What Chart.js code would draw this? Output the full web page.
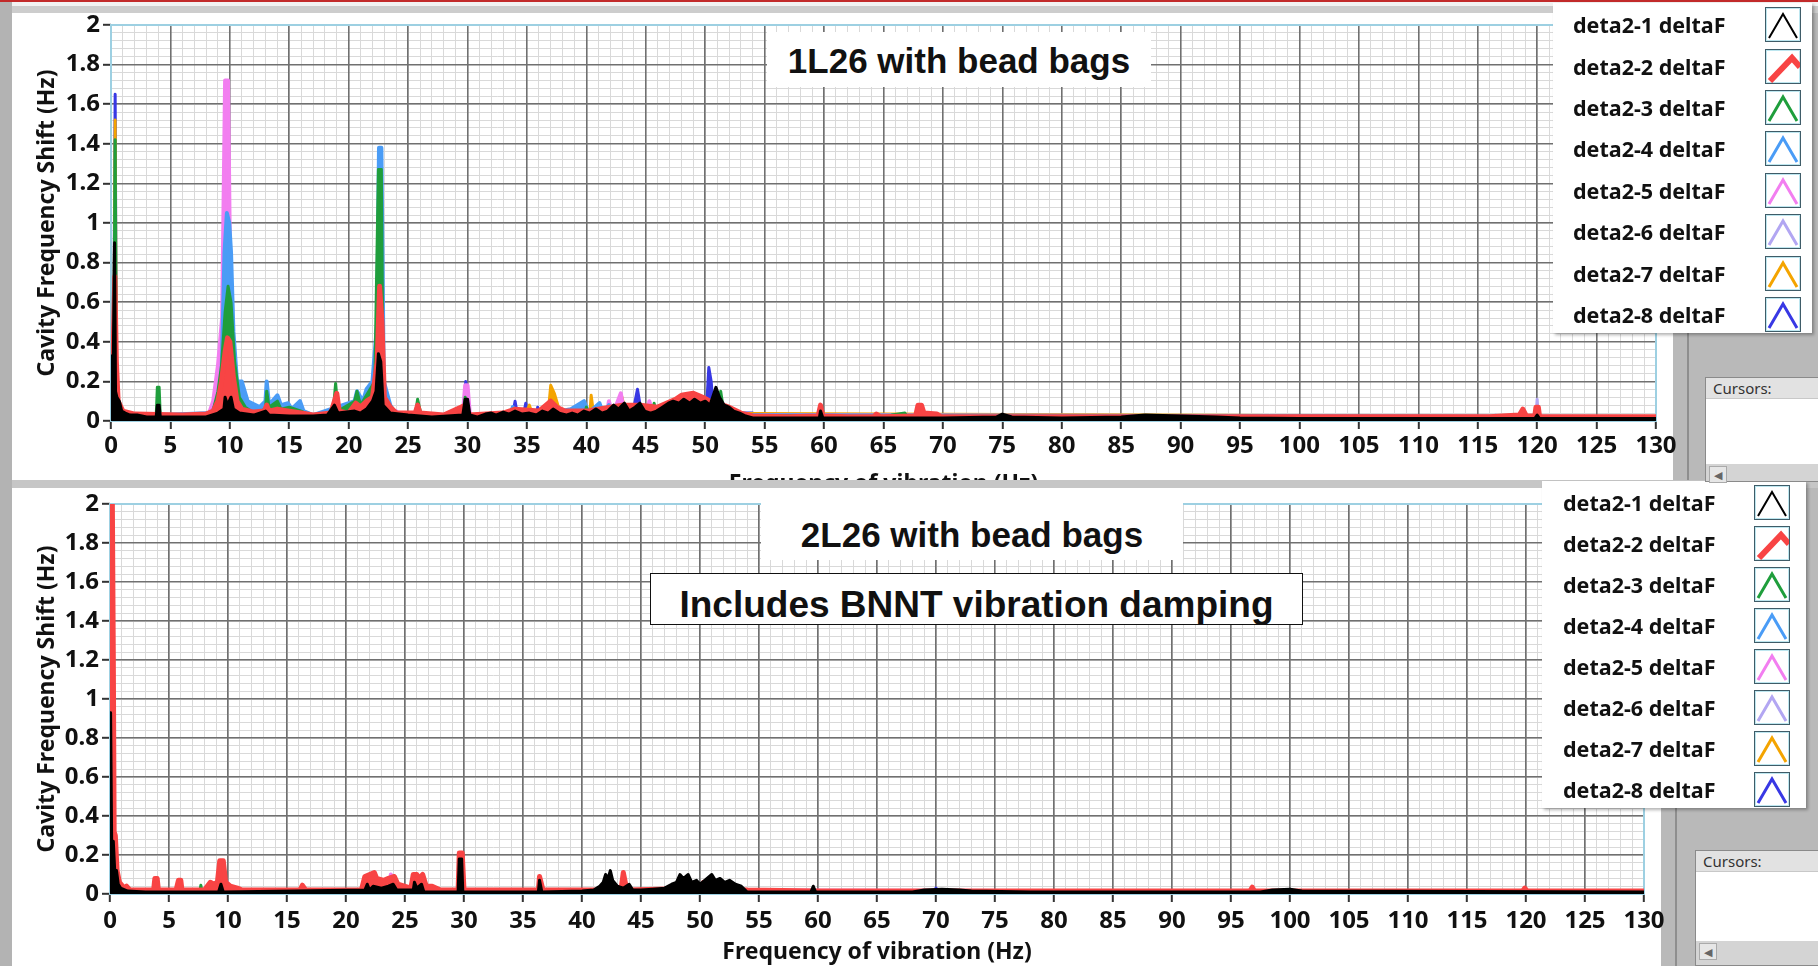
<!DOCTYPE html>
<html>
<head>
<meta charset="utf-8">
<script src="https://cdn.jsdelivr.net/npm/chart.js@4.4.1/dist/chart.umd.min.js"></script>
<style>
  body { margin: 0; width: 1818px; height: 966px; overflow: hidden; background: #b9b9b9; position: relative; font-family: "Noto Sans", sans-serif; }
  .abs { position: absolute; }
  .panel { background: #fff; }
  canvas { position: absolute; left: 0; }
  .tbox { background: #fff; z-index: 5; }
  .ttxt { position: absolute; left: 0; width: 100%; text-align: center; font-family: "Liberation Sans", Arial, sans-serif; font-weight: bold; line-height: 1; color: #111; white-space: nowrap; }
  .legend { background: #fff; z-index: 6; box-shadow: 2px 2px 3px rgba(0,0,0,0.3); }
  .lrow { position: absolute; left: 0; width: 100%; display: flex; align-items: center; }
  .ltxt { position: absolute; font-weight: bold; font-size: 21.5px; color: #111; }
  .licon { position: absolute; width: 34px; height: 33px; border: 1px solid #3f5c68; box-shadow: inset 0 0 0 1px #bde6ef; background: #fff; }
  .cursors { background: #fff; border: 1px solid #8a8a8a; z-index: 6; }
  .chead { background: #e2e2e2; color: #333; font-size: 15px; padding-left: 7px; border-bottom: 1px solid #c8c8c8; }
  .cscroll { position: absolute; left: 0; width: 100%; background: #d4d4d4; }
  .carrow { position: absolute; left: 3px; top: 2px; width: 16px; color: #666; font-size: 11px; text-align: center; border: 1px solid #aaa; background: #e6e6e6; }
</style>
</head>
<body>
<div class="abs" style="left:0;top:0;width:1818px;height:2px;background:#c22a2a;z-index:9"></div>
<div class="abs" style="left:0;top:0;width:12px;height:966px;background:#b3b3b3;z-index:8"></div>
<div class="abs" style="left:12px;top:2px;width:1806px;height:5px;background:#f2f2f2"></div>
<div class="abs" style="left:12px;top:6px;width:1806px;height:7px;background:#cdcdcd"></div>
<div class="abs panel" style="left:12px;top:13px;width:1661px;height:467px;z-index:0"></div>
<div class="abs" style="left:1687px;top:333px;width:2px;height:147px;background:#8e8e8e"></div>
<canvas id="topChart" width="1700" height="500" style="top:0;z-index:1"></canvas>
<div class="abs" style="left:12px;top:480px;width:1806px;height:8px;background:#c6c6c6;z-index:2"></div>
<div class="abs panel" style="left:12px;top:488px;width:1649px;height:478px;z-index:2"></div>
<div class="abs" style="left:1675px;top:808px;width:2px;height:158px;background:#8e8e8e;z-index:2"></div>
<canvas id="bottomChart" width="1700" height="486" style="top:480px;z-index:3"></canvas>

<div class="abs tbox" style="left:767px;top:32px;width:384px;height:55px"><div class="ttxt" style="top:11px;font-size:35px">1L26 with bead bags</div></div>
<div class="abs tbox" style="left:761px;top:503px;width:422px;height:57px"><div class="ttxt" style="top:14px;font-size:35px">2L26 with bead bags</div></div>
<div class="abs tbox" style="left:650px;top:573px;width:651px;height:50px;border:1.5px solid #111"><div class="ttxt" style="top:12px;font-size:37px">Includes BNNT vibration damping</div></div>

<div id="legendTop" class="abs legend" style="left:1553px;top:3px;width:259px;height:330px"></div>
<div id="legendBottom" class="abs legend" style="left:1542px;top:481px;width:264px;height:327px"></div>

<div class="abs cursors" style="left:1705px;top:377px;width:113px;height:103px">
  <div class="chead">Cursors:</div>
  <div class="cscroll" style="top:86px;height:17px"><div class="carrow">&#9664;</div></div>
</div>
<div class="abs cursors" style="left:1695px;top:850px;width:123px;height:114px">
  <div class="chead">Cursors:</div>
  <div class="cscroll" style="top:90px;height:24px"><div class="carrow">&#9664;</div></div>
</div>

<script>
// legend / series
const seriesNames = ['deta2-1 deltaF', 'deta2-2 deltaF', 'deta2-3 deltaF', 'deta2-4 deltaF',
                     'deta2-5 deltaF', 'deta2-6 deltaF', 'deta2-7 deltaF', 'deta2-8 deltaF'];
const seriesColors = ['#000000', '#f84444', '#1f9e3c', '#4a9cf6', '#f27ef0', '#b2a6f2', '#f4a400', '#3838e4'];
const lineWidths = [3, 5, 3, 4, 4, 3, 3, 3];

// axes
const freqMin = 0, freqMax = 130, freqStep = 5, freqMinorStep = 1;
const shiftMin = 0, shiftMax = 2, shiftStep = 0.2, shiftMinorStep = 0.04;

// 1L26 with bead bags: [frequency Hz, shift Hz]
const top1 = [[0,0.05],[0.08,0.33],[0.15,0.1],[0.3,0.9],[0.38,0.15],[0.5,0.12],[0.7,0.1],[0.9,0.05],[1.2,0.04],[1.6,0.03],[2.2,0.03],[3,0.02],[3.8,0.02],[3.9,0.08],[4.05,0.08],[4.15,0.02],[6,0.02],[8,0.02],[9,0.04],[9.5,0.06],[9.6,0.12],[9.8,0.08],[10.1,0.12],[10.3,0.06],[10.8,0.04],[12,0.03],[13,0.05],[13.3,0.03],[15,0.025],[17,0.025],[18.2,0.03],[18.8,0.08],[19.1,0.04],[20.5,0.05],[21,0.04],[21.5,0.06],[22,0.1],[22.3,0.15],[22.5,0.34],[22.7,0.3],[22.9,0.08],[23.5,0.04],[25,0.03],[27,0.02],[29.6,0.03],[29.8,0.11],[30,0.11],[30.2,0.03],[30.8,0.02],[31.5,0.035],[32,0.04],[32.4,0.03],[33,0.045],[33.5,0.035],[34,0.05],[34.6,0.035],[35.2,0.04],[35.8,0.03],[36.3,0.05],[36.8,0.04],[37.2,0.06],[37.7,0.04],[38.3,0.03],[38.8,0.04],[39.3,0.03],[39.8,0.05],[40.3,0.04],[40.8,0.06],[41.3,0.04],[41.8,0.05],[42.3,0.08],[42.7,0.06],[43.2,0.09],[43.6,0.05],[44.1,0.07],[44.5,0.09],[44.9,0.05],[45.4,0.04],[45.9,0.05],[46.4,0.07],[46.9,0.09],[47.3,0.1],[47.8,0.09],[48.2,0.11],[48.7,0.09],[49.1,0.11],[49.6,0.09],[50,0.1],[50.4,0.08],[50.9,0.17],[51.2,0.12],[51.6,0.08],[52,0.07],[52.4,0.05],[52.9,0.04],[53.4,0.025],[54,0.015],[59.6,0.015],[59.7,0.05],[59.9,0.015],[65,0.015],[70,0.015],[74.5,0.02],[75,0.035],[75.8,0.02],[80,0.015],[85,0.02],[87,0.03],[90,0.025],[93,0.02],[95,0.015],[100,0.012],[110,0.012],[119.8,0.012],[120,0.03],[120.2,0.012],[130,0.012]];
const top2 = [[0,0.03],[0.2,0.4],[0.32,0.73],[0.45,0.3],[0.6,0.1],[1,0.05],[2,0.035],[6,0.03],[8,0.035],[8.6,0.05],[9,0.1],[9.3,0.2],[9.6,0.35],[9.8,0.42],[10,0.4],[10.3,0.22],[10.6,0.1],[11,0.06],[12,0.045],[12.9,0.05],[13.1,0.08],[13.3,0.05],[14,0.06],[15,0.05],[16,0.04],[17,0.03],[18.5,0.04],[18.8,0.1],[19,0.14],[19.2,0.05],[20,0.04],[20.6,0.09],[21,0.07],[21.5,0.1],[22,0.12],[22.4,0.3],[22.6,0.68],[22.8,0.5],[23,0.12],[23.5,0.07],[24,0.04],[25.6,0.04],[25.8,0.08],[26,0.04],[28,0.03],[29.8,0.08],[30.1,0.03],[33,0.04],[34,0.06],[36,0.05],[37,0.1],[37.5,0.07],[38.2,0.05],[40,0.05],[42,0.07],[43,0.08],[44.5,0.08],[46,0.07],[47.5,0.11],[48,0.13],[49,0.14],[49.8,0.12],[50.4,0.1],[51,0.09],[52,0.07],[53,0.04],[54,0.025],[57,0.022],[59.5,0.025],[59.7,0.08],[59.9,0.025],[62,0.022],[64.2,0.022],[64.4,0.035],[64.7,0.022],[67.7,0.025],[67.9,0.08],[68.2,0.08],[68.4,0.04],[69.5,0.035],[69.8,0.022],[80,0.022],[100,0.022],[116,0.022],[118.5,0.03],[118.8,0.06],[119.1,0.025],[119.8,0.025],[119.9,0.07],[120.1,0.07],[120.2,0.022],[130,0.022]];
const top3 = [[0,0.02],[0.25,0.5],[0.35,1.42],[0.45,0.2],[0.6,0.02],[3.8,0.02],[3.9,0.17],[4.05,0.17],[4.15,0.02],[8.5,0.03],[9,0.15],[9.3,0.28],[9.6,0.55],[9.85,0.68],[10.1,0.6],[10.4,0.3],[10.8,0.12],[11.3,0.07],[12,0.04],[13,0.06],[13.1,0.15],[13.3,0.07],[14,0.1],[14.3,0.06],[15,0.07],[16,0.05],[17,0.02],[18.7,0.05],[18.9,0.19],[19.1,0.05],[20.5,0.1],[20.7,0.15],[21,0.08],[21.4,0.12],[21.8,0.16],[22.2,0.2],[22.5,1.27],[22.75,1.27],[22.9,0.15],[23.3,0.08],[24,0.03],[25.6,0.03],[25.8,0.11],[26.1,0.03],[29.6,0.03],[29.8,0.12],[30.1,0.03],[39.8,0.03],[40,0.07],[40.2,0.03],[45.5,0.03],[45.7,0.09],[45.9,0.03],[51.1,0.03],[51.3,0.15],[51.6,0.03],[65.6,0.02],[65.7,0.03],[66.8,0.04],[67,0.02],[130,0.02]];
const top4 = [[0,0.02],[8.5,0.04],[9,0.12],[9.3,0.22],[9.55,0.85],[9.75,1.05],[9.95,1],[10.1,0.85],[10.3,0.45],[10.6,0.2],[11,0.2],[11.5,0.1],[12.5,0.07],[13,0.1],[13.1,0.2],[13.3,0.08],[14,0.13],[14.3,0.08],[14.9,0.09],[15.2,0.06],[15.9,0.1],[16.2,0.05],[17,0.03],[20.5,0.1],[20.7,0.15],[21.2,0.1],[21.5,0.16],[22,0.2],[22.4,0.5],[22.55,1.38],[22.75,1.38],[22.95,0.2],[23.5,0.08],[24,0.03],[28.3,0.03],[30,0.02],[33.6,0.02],[33.8,0.07],[34.2,0.03],[36,0.03],[38.7,0.06],[39.8,0.1],[40.2,0.04],[41.1,0.09],[41.4,0.04],[41.9,0.08],[42.2,0.03],[45,0.03],[130,0.02]];
const top5 = [[0,0.02],[8.2,0.03],[8.6,0.1],[9,0.28],[9.35,0.52],[9.6,1.72],[9.85,1.72],[10.05,0.6],[10.3,0.2],[10.6,0.03],[23.8,0.03],[24,0.05],[24.2,0.02],[29.6,0.03],[29.8,0.18],[30,0.18],[30.2,0.03],[34,0.02],[34.2,0.05],[35,0.03],[41.7,0.03],[41.9,0.1],[42.2,0.03],[42.9,0.14],[43.2,0.03],[45.1,0.03],[45.3,0.1],[45.6,0.03],[130,0.02]];
const top6 = [[0,0.02],[116,0.02],[116.5,0.03],[117,0.02],[119.9,0.02],[120,0.11],[120.1,0.02],[130,0.02]];
const top7 = [[0,0.02],[0.25,0.5],[0.35,1.52],[0.45,0.2],[0.6,0.02],[34.8,0.02],[35.2,0.08],[35.5,0.03],[36.8,0.05],[37,0.18],[37.3,0.14],[37.6,0.08],[38,0.03],[40.3,0.04],[40.4,0.13],[40.6,0.04],[42.8,0.05],[43,0.12],[43.3,0.04],[130,0.02]];
const top8 = [[0,0.02],[0.25,0.6],[0.35,1.65],[0.45,0.2],[0.6,0.02],[29.7,0.03],[29.85,0.2],[30,0.03],[33.8,0.03],[34,0.1],[34.2,0.03],[34.7,0.03],[34.9,0.09],[35.1,0.03],[35.8,0.02],[35.9,0.07],[36.1,0.02],[43.9,0.04],[44.3,0.16],[44.6,0.05],[50.1,0.05],[50.3,0.27],[50.5,0.2],[50.7,0.05],[53,0.04],[54,0.04],[55,0.02],[130,0.02]];

// 2L26 with bead bags (BNNT damping)
const bot1 = [[0,0.05],[0.05,0.93],[0.15,0.2],[0.28,0.27],[0.4,0.12],[0.55,0.12],[0.7,0.05],[0.9,0.03],[1.5,0.015],[3,0.01],[9.2,0.01],[9.4,0.05],[9.6,0.01],[21.6,0.02],[21.8,0.05],[22,0.02],[22.3,0.04],[23,0.03],[23.6,0.04],[24,0.05],[24.3,0.02],[25.7,0.02],[25.8,0.06],[26,0.03],[26.4,0.05],[26.6,0.01],[29.5,0.01],[29.6,0.18],[29.8,0.18],[29.9,0.01],[36.3,0.01],[36.4,0.07],[36.6,0.01],[40,0.015],[41,0.02],[41.5,0.04],[41.8,0.06],[42,0.1],[42.2,0.08],[42.4,0.12],[42.6,0.07],[43,0.04],[43.5,0.03],[44,0.05],[44.3,0.02],[45,0.02],[46,0.025],[47,0.03],[47.6,0.05],[48,0.06],[48.3,0.1],[48.6,0.08],[49,0.1],[49.3,0.06],[49.7,0.07],[50,0.05],[50.4,0.07],[51,0.1],[51.3,0.07],[51.7,0.08],[52.1,0.06],[52.5,0.07],[53,0.05],[53.5,0.04],[54,0.01],[59.4,0.01],[59.6,0.04],[59.8,0.01],[68,0.01],[69,0.02],[70.5,0.025],[72,0.02],[73,0.015],[78,0.01],[97.5,0.01],[98.5,0.02],[100,0.025],[101,0.015],[130,0.01]];
const bot2 = [[0,0.05],[0.12,2],[0.2,2],[0.28,1.22],[0.35,0.32],[0.45,0.3],[0.6,0.12],[0.8,0.06],[1.2,0.03],[1.4,0.04],[1.7,0.02],[3.7,0.02],[3.8,0.08],[4,0.08],[4.1,0.02],[5.6,0.02],[5.8,0.07],[6,0.07],[6.1,0.02],[8,0.02],[8.5,0.06],[8.8,0.05],[9.1,0.06],[9.3,0.17],[9.6,0.17],[9.8,0.06],[10.2,0.04],[10.8,0.03],[11.2,0.02],[16.1,0.02],[16.3,0.045],[16.6,0.02],[21.3,0.02],[21.6,0.09],[22,0.1],[22.4,0.11],[22.6,0.08],[23.2,0.07],[23.6,0.08],[24.1,0.09],[24.4,0.05],[25.5,0.03],[25.7,0.1],[26,0.1],[26.2,0.08],[26.5,0.1],[26.8,0.04],[27.3,0.04],[28,0.02],[29.5,0.02],[29.6,0.21],[29.85,0.21],[30,0.02],[36.3,0.02],[36.4,0.09],[36.7,0.02],[43.3,0.02],[43.5,0.11],[43.8,0.02],[50.1,0.03],[50.3,0.06],[50.6,0.03],[54,0.02],[60,0.015],[96.6,0.015],[96.8,0.035],[97,0.015],[119.7,0.015],[119.9,0.03],[120.1,0.015],[130,0.015]];
const bot3 = [[0,0.01],[7.6,0.01],[7.7,0.045],[7.8,0.01],[130,0.01]];
const bot4 = [[0,0.01],[130,0.01]];
const bot5 = [[0,0.01],[9.8,0.01],[9.9,0.06],[10,0.01],[23.7,0.02],[23.8,0.1],[23.9,0.02],[130,0.01]];
const bot6 = [[0,0.01],[130,0.01]];
const bot7 = [[0,0.01],[130,0.01]];
const bot8 = [[0,0.01],[69.8,0.01],[70,0.03],[70.2,0.01],[130,0.01]];

const tickFont = { family: 'Noto Sans', weight: 'bold', size: 24 };
const titleFont = { family: 'Noto Sans', weight: 'bold', size: 23 };

// light blue frame round the plot area
const plotFrame = {
  id: 'plotFrame',
  beforeDatasetsDraw(chart) {
    const { ctx, chartArea: a } = chart;
    ctx.save();
    ctx.strokeStyle = '#9dd0e2';
    ctx.lineWidth = 2;
    ctx.strokeRect(a.left, a.top, a.right - a.left, a.bottom - a.top);
    ctx.restore();
  }
};

function buildChart(id, series, geo) {
  return new Chart(document.getElementById(id), {
    type: 'line',
    data: {
      datasets: series.map((pts, i) => ({
        label: seriesNames[i],
        data: pts.map(p => ({ x: p[0], y: p[1] })),
        borderColor: seriesColors[i],
        backgroundColor: seriesColors[i],
        borderWidth: lineWidths[i],
        fill: 'origin',
        pointRadius: 0,
        tension: 0,
        borderJoinStyle: 'round'
      }))
    },
    options: {
      responsive: false,
      animation: false,
      layout: { padding: { left: 0, top: geo.top, right: geo.right, bottom: 0 } },
      plugins: { legend: { display: false }, tooltip: { enabled: false } },
      scales: {
        xMinor: {
          type: 'linear', position: 'bottom', min: freqMin, max: freqMax,
          ticks: { display: false, stepSize: freqMinorStep },
          grid: { color: '#d9d9d9', lineWidth: 1, drawTicks: false, z: -2 },
          border: { display: false },
          afterFit: s => { s.height = 0; }
        },
        yMinor: {
          type: 'linear', position: 'left', min: shiftMin, max: shiftMax,
          ticks: { display: false, stepSize: shiftMinorStep },
          grid: { color: '#d9d9d9', lineWidth: 1, drawTicks: false, z: -2 },
          border: { display: false },
          afterFit: s => { s.width = 0; }
        },
        x: {
          type: 'linear', position: 'bottom', min: freqMin, max: freqMax,
          ticks: { stepSize: freqStep, autoSkip: false, maxRotation: 0, padding: geo.xPad, color: '#111', font: tickFont },
          grid: { color: '#707070', lineWidth: 1.6, tickLength: 8, tickColor: '#333', tickWidth: 2 },
          border: { display: false },
          title: { display: true, text: 'Frequency of vibration (Hz)', color: '#111', font: titleFont, padding: { top: 0, bottom: geo.titlePad } },
          afterFit: s => { s.height = geo.xHeight; }
        },
        y: {
          type: 'linear', position: 'left', min: shiftMin, max: shiftMax,
          ticks: { stepSize: shiftStep, padding: 3, color: '#111', font: tickFont,
                   callback: v => String(Math.round(v * 10) / 10) },
          grid: { color: '#707070', lineWidth: 1.6, tickLength: 8, tickColor: '#333', tickWidth: 2 },
          border: { display: false },
          title: { display: true, text: 'Cavity Frequency Shift (Hz)', color: '#111', font: titleFont, padding: { top: 34, bottom: 0 } },
          afterFit: s => { s.width = geo.yWidth; }
        }
      }
    },
    plugins: [plotFrame]
  });
}

buildChart('topChart', [top1, top2, top3, top4, top5, top6, top7, top8],
  { top: 25, right: 44, yWidth: 111, xHeight: 79, xPad: 3, titlePad: 2 });
buildChart('bottomChart', [bot1, bot2, bot3, bot4, bot5, bot6, bot7, bot8],
  { top: 24, right: 56, yWidth: 110, xHeight: 72, xPad: 5, titlePad: 0 });

function buildLegend(id, rowTop, rowGap, textLeft, iconLeft) {
  const box = document.getElementById(id);
  seriesNames.forEach((name, i) => {
    const row = document.createElement('div');
    row.className = 'lrow';
    row.style.top = (rowTop + i * rowGap) + 'px';
    row.style.height = rowGap + 'px';
    const pts = i === 1 ? '4,31 26,8 34,17' : '3,30 17,6 31,30';
    const w = i === 1 ? 6 : (i === 0 ? 2 : 3);
    row.innerHTML = '<span class="ltxt" style="left:' + textLeft + 'px">' + name + '</span>' +
      '<svg class="licon" style="left:' + iconLeft + 'px" viewBox="0 0 34 33">' +
      '<polyline points="' + pts + '" fill="none" stroke="' + seriesColors[i] + '" stroke-width="' + w + '"/></svg>';
    box.appendChild(row);
  });
}

buildLegend('legendTop', 1, 41.4, 20, 212);
buildLegend('legendBottom', 0.5, 41.1, 21, 212);
</script>
</body>
</html>
